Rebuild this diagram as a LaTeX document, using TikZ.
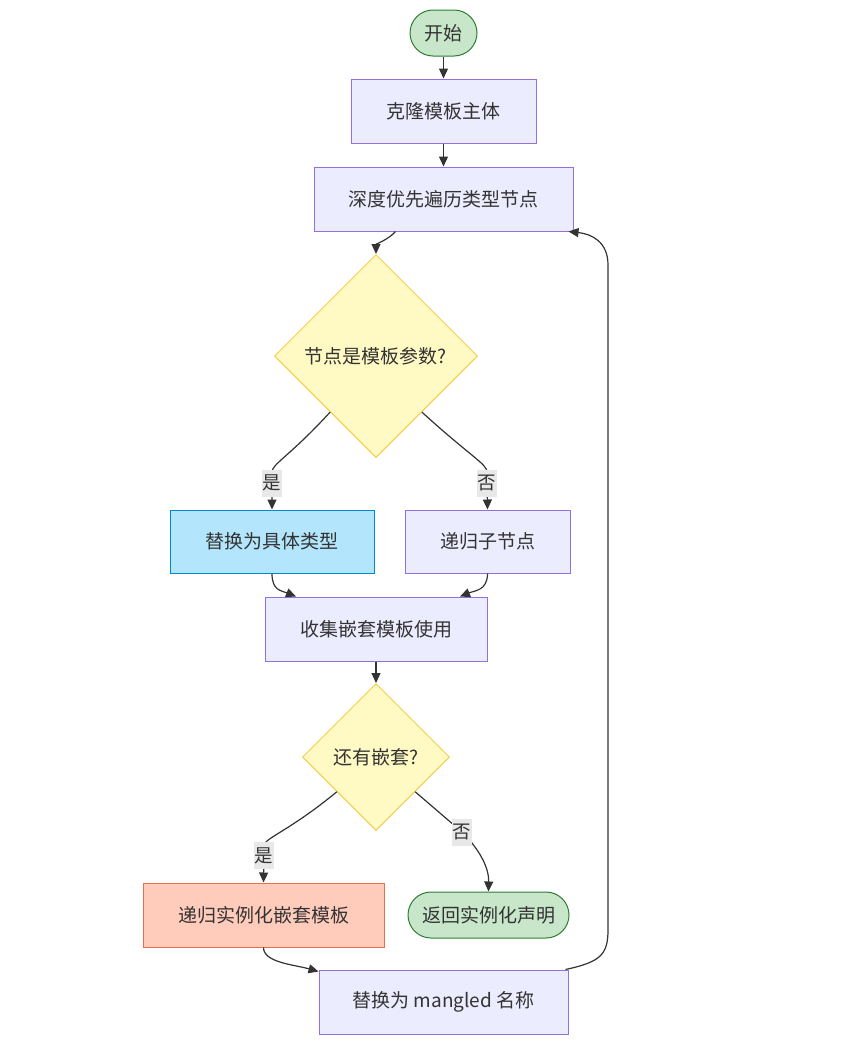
\documentclass[tikz,border=0pt]{standalone}
\usepackage{fontspec}
\setmainfont{Noto Sans CJK SC}
\usetikzlibrary{shapes.geometric,arrows.meta,calc}
\definecolor{txt}{HTML}{333333}
\definecolor{pfill}{HTML}{ECECFF}
\definecolor{pline}{HTML}{9370DB}
\definecolor{yfill}{HTML}{FFF9C4}
\definecolor{yline}{HTML}{F2CF4A}
\definecolor{gfill}{HTML}{C8E6C9}
\definecolor{gline}{HTML}{2E7D32}
\definecolor{bfill}{HTML}{B3E5FC}
\definecolor{bline}{HTML}{0288D1}
\definecolor{rfill}{HTML}{FFCCBC}
\definecolor{rline}{HTML}{E66F52}
\definecolor{lblbg}{HTML}{E8E8E8}
\tikzset{
  base/.style={font=\fontsize{19}{23}\selectfont, text=txt, line width=1pt, inner sep=0pt},
  procbox/.style={base, rectangle, draw=pline, fill=pfill},
  termbox/.style={base, rectangle, rounded corners=23pt, draw=gline, fill=gfill, minimum height=46pt},
  decbox/.style={base, diamond, aspect=1, draw=yline, fill=yfill},
  edge/.style={draw=txt, line width=1.2pt, -{Triangle[length=10pt,width=9pt]}},
  lbl/.style={font=\fontsize{18.5}{21}\selectfont, text=txt, fill=lblbg, inner sep=1pt, minimum height=27pt}
}
\begin{document}
\begin{tikzpicture}[x=1pt,y=-1pt]
\useasboundingbox (0,0) rectangle (847,1042);
\node[termbox, minimum width=67pt] (start) at (443.5,33) {开始};
\node[procbox, minimum width=185pt, minimum height=64pt] (clone) at (443.5,111) {克隆模板主体};
\node[procbox, minimum width=259pt, minimum height=64pt] (dfs) at (443.5,199) {深度优先遍历类型节点};
\node[decbox, minimum width=203pt, minimum height=203pt] (isparam) at (376,356) {节点是模板参数?};
\node[procbox, draw=bline, fill=bfill, minimum width=204pt, minimum height=63pt] (subst) at (272,541.5) {替换为具体类型};
\node[procbox, minimum width=165pt, minimum height=63pt] (recur) at (487.5,541.5) {递归子节点};
\node[procbox, minimum width=222pt, minimum height=64pt] (collect) at (376,629) {收集嵌套模板使用};
\node[decbox, minimum width=147pt, minimum height=147pt] (nested) at (376,757) {还有嵌套?};
\node[procbox, draw=rline, fill=rfill, minimum width=241pt, minimum height=64pt] (inst) at (263.5,915) {递归实例化嵌套模板};
\node[termbox, minimum width=161pt] (ret) at (488.5,915) {返回实例化声明};
\node[procbox, minimum width=249pt, minimum height=64pt] (mangle) at (443.5,1002) {替换为 mangled 名称};

\draw[edge] (start) -- (clone);
\draw[edge] (clone) -- (dfs);
\draw[edge] ($(dfs.south)+(-48,0)$) .. controls ($(dfs.south)+(-55,8)$) and ($(isparam.north)+(0,-10)$) .. (isparam.north);
\draw[edge] ($(isparam.west)!0.55!(isparam.south)$) .. controls (290,456) and (272,464) .. (272,472) -- node[lbl, pos=0.3]{是} (subst.north);
\draw[edge] ($(isparam.east)!0.55!(isparam.south)$) .. controls (470,456) and (487,464) .. (487,472) -- node[lbl, pos=0.3]{否} (recur.north);
\draw[edge] (subst.south) .. controls ($(subst.south)+(0,17)$) and ($(collect.north)+(-95,-6)$) .. ($(collect.north)+(-80,0)$);
\draw[edge] (recur.south) .. controls ($(recur.south)+(0,17)$) and ($(collect.north)+(99,-6)$) .. ($(collect.north)+(84,0)$);
\draw[edge] (collect) -- (nested);
\draw[edge] ($(nested.west)!0.47!(nested.south)$) .. controls (288,832) and (264,838) .. (264,846) -- node[lbl, pos=0.27]{是} (inst.north);
\draw[edge] ($(nested.east)!0.47!(nested.south)$) -- node[lbl, pos=1]{否} (462,832) .. controls (480,850) and (489,868) .. (ret.north);
\draw[edge] (inst.south) .. controls ($(inst.south)+(0,15)$) and ($(mangle.north west)+(-25,-5)$) .. ($(mangle.north west)+(0,2)$);
\draw[edge] ($(mangle.north east)+(-3,0)$) .. controls (600,962) and (608,955) .. (608,930) -- (608,265) .. controls (608,242) and (592,234) .. ($(dfs.south east)+(-5,0)$);
\end{tikzpicture}
\end{document}
